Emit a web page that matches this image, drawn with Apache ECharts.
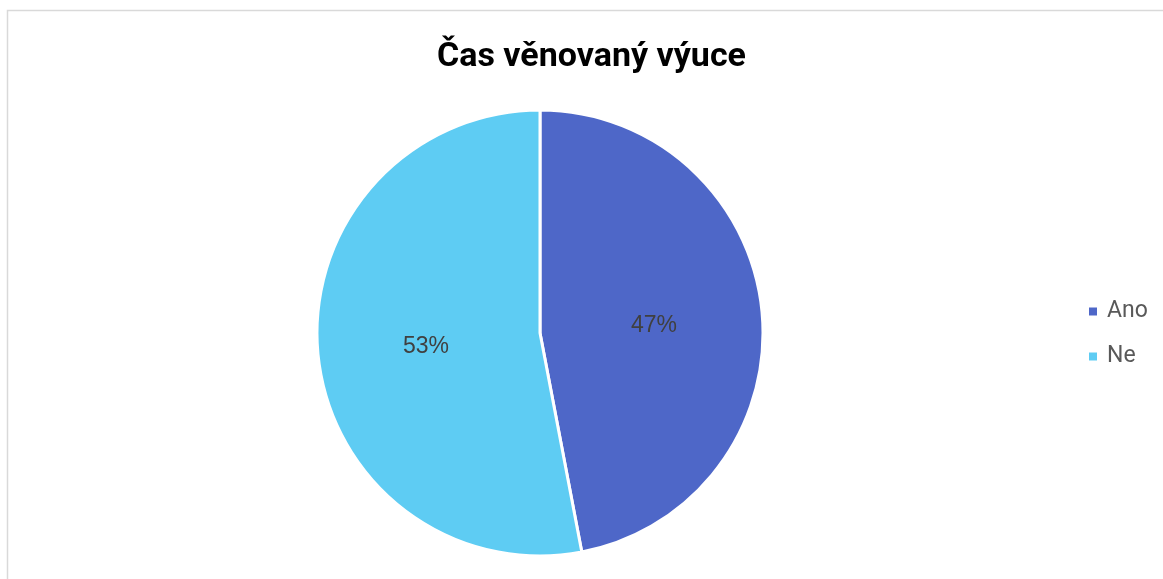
<!DOCTYPE html>
<html><head><meta charset="utf-8">
<script src="https://cdn.jsdelivr.net/npm/echarts@6/dist/echarts.min.js"></script>
<style>html,body{margin:0;padding:0;background:#fff}#c{width:1163px;height:579px}</style>
</head><body><div id="c"></div>
<script>
const categories = ['Ano', 'Ne'];
const values = [47, 53];
const colors = ['#4E67C8', '#5ECCF3'];
const title = 'Čas věnovaný výuce';

const chart = echarts.init(document.getElementById('c'), null, {renderer: 'canvas'});
chart.setOption({
  animation: false,
  backgroundColor: '#fff',
  graphic: [{
    type: 'rect', shape: {x: 7.5, y: 10.5, width: 1200, height: 600},
    style: {fill: 'none', stroke: '#d9d9d9', lineWidth: 1.5}, silent: true
  }],
  title: {
    text: title, left: 432, top: 35,
    textStyle: {fontFamily: 'Roboto', fontWeight: 'bold', fontSize: 34, color: '#000'}
  },
  legend: {
    orient: 'vertical', left: 1082, top: 295,
    itemWidth: 10, itemHeight: 10, itemGap: 22, icon: 'rect',
    textStyle: {fontFamily: 'Roboto', fontSize: 23, color: '#595959', padding: [0, 0, 0, 4]},
    data: categories
  },
  series: [{
    type: 'pie', center: [540, 333], radius: 223, startAngle: 90, clockwise: true,
    itemStyle: {borderColor: '#fff', borderWidth: 3},
    label: {
      position: 'inside', formatter: p => Math.round(p.percent) + '%',
      fontFamily: 'Liberation Sans', fontSize: 23, color: '#404040', offset: [0, 3]
    },
    labelLine: {show: false},
    data: categories.map((c, i) => ({name: c, value: values[i], itemStyle: {color: colors[i]}}))
  }]
});
</script></body></html>
